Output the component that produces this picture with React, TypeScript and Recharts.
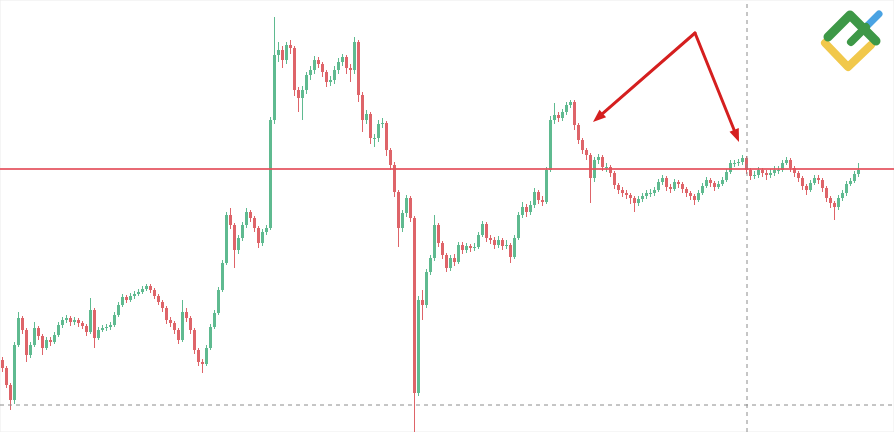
import {
  Bar,
  CartesianGrid,
  ComposedChart,
  ReferenceLine,
  XAxis,
  YAxis,
} from "recharts";

document.body.style.margin = "0";

const GREEN = "#5fba90";
const RED = "#de6469";
const ARROW = "#d51f1f";

// closing prices, one per bar (open = previous close)
const firstOpen = 72;
const closes = [
  64, 47, 32, 87, 114, 102, 77, 87, 104, 96,
  84, 92, 90, 97, 107, 112, 114, 110, 112, 109,
  106, 100, 122, 94, 102, 104, 105, 107, 117, 127,
  135, 132, 136, 138, 140, 143, 146, 142, 136, 130,
  124, 112, 109, 102, 92, 120, 114, 102, 82, 70,
  68, 84, 105, 119, 142, 169, 217, 207, 182, 194,
  207, 220, 214, 204, 189, 200, 204, 312, 377, 382,
  372, 387, 384, 342, 334, 342, 357, 362, 372, 368,
  360, 350, 352, 362, 370, 375, 364, 362, 390, 337,
  312, 318, 294, 294, 308, 309, 282, 267, 240, 204,
  219, 234, 214, 39, 132, 127, 160, 174, 207, 189,
  177, 164, 174, 170, 187, 182, 186, 184, 185, 197,
  208, 194, 192, 187, 192, 186, 187, 175, 194, 217,
  225, 220, 227, 240, 232, 230, 262, 312, 317, 314,
  320, 327, 330, 307, 292, 282, 277, 254, 272, 275,
  265, 265, 259, 247, 242, 239, 237, 234, 229, 233,
  236, 239, 239, 242, 250, 254, 245, 243, 250, 248,
  243, 239, 236, 232, 239, 246, 252, 249, 245, 248,
  252, 260, 269, 269, 270, 274, 262, 256, 257, 262,
  259, 257, 259, 262, 262, 269, 272, 264, 259, 254,
  246, 242, 249, 254, 252, 244, 234, 229, 225, 234,
  239, 248, 251, 258, 262,
];

const highs = [
  75, 66, 49, 90, 120, 116, 104, 90, 110, 106,
  98, 95, 95, 100, 110, 115, 117, 116, 115, 114,
  111, 108, 134, 124, 105, 107, 108, 110, 120, 130,
  138, 137, 139, 141, 143, 146, 148, 148, 144, 138,
  132, 126, 115, 111, 104, 132, 124, 116, 104, 84,
  73, 87, 108, 122, 145, 172, 220, 224, 209, 197,
  210, 224, 222, 216, 206, 203, 207, 315, 415, 390,
  386, 390, 392, 386, 345, 346, 360, 366, 376, 375,
  370, 362, 356, 366, 374, 378, 377, 368, 395, 392,
  340, 322, 320, 298, 312, 314, 311, 284, 270, 242,
  222, 237, 236, 216, 136, 142, 163, 177, 217, 209,
  191, 179, 177, 178, 190, 190, 189, 188, 189, 200,
  211, 210, 197, 195, 196, 194, 192, 189, 197, 220,
  230, 228, 231, 244, 242, 236, 265, 316, 329, 320,
  323, 330, 332, 332, 309, 294, 284, 279, 275, 278,
  277, 269, 267, 261, 249, 245, 242, 239, 236, 236,
  239, 242, 243, 245, 253, 257, 256, 248, 253, 252,
  250, 245, 241, 238, 242, 249, 255, 254, 251, 251,
  255, 263, 272, 272, 273, 277, 276, 264, 261, 265,
  264, 262, 263, 266, 266, 272, 275, 274, 266, 261,
  256, 248, 252, 257, 257, 254, 246, 236, 231, 237,
  242, 251, 254, 261, 269,
];

const lows = [
  60, 44, 22, 28, 85, 98, 70, 74, 85, 92,
  77, 82, 86, 88, 95, 104, 109, 106, 107, 105,
  103, 96, 98, 84, 92, 100, 101, 102, 105, 115,
  125, 129, 130, 133, 136, 138, 141, 139, 133, 127,
  120, 108, 105, 98, 88, 90, 110, 98, 78, 66,
  59, 66, 82, 103, 117, 140, 167, 203, 164, 178,
  191, 204, 210, 200, 184, 186, 197, 202, 308, 370,
  364, 368, 378, 336, 320, 312, 338, 352, 358, 364,
  355, 345, 346, 348, 358, 366, 358, 350, 358, 330,
  300, 308, 288, 285, 290, 304, 276, 262, 235, 185,
  200, 215, 210, 0, 36, 112, 124, 157, 171, 185,
  173, 160, 161, 166, 168, 178, 179, 180, 181, 183,
  195, 190, 188, 183, 184, 182, 183, 169, 173, 192,
  214, 215, 217, 224, 228, 226, 228, 260, 308, 310,
  311, 317, 324, 302, 288, 278, 272, 229, 250, 268,
  261, 260, 255, 243, 238, 235, 233, 228, 220, 226,
  230, 233, 235, 236, 240, 247, 241, 239, 241, 244,
  239, 235, 232, 227, 230, 237, 244, 245, 241, 243,
  246, 250, 258, 265, 266, 267, 258, 252, 253, 254,
  255, 252, 254, 256, 258, 260, 267, 260, 255, 250,
  242, 237, 240, 247, 248, 240, 230, 224, 212, 222,
  231, 236, 246, 249, 255,
];

// session separators (bar index) and price grid
const sessionTicks = [16.5, 28.5, 41, 59, 71.5, 84, 101.5, 114.5, 126.5, 145, 157, 169.5, 187.5, 200, 212.5];
const priceTicks = [12, 39, 66, 93, 120, 147, 174, 201, 228, 255, 282, 309, 336, 363, 390, 417];

const resistance = 263;
const crossPrice = 27;
const crossBar = 186.25;

// annotation arrows: common tail, two heads
const arrowTail = { x: 173.25, y: 399 };
const arrowHeads = [
  { x: 147.75, y: 310 },
  { x: 184.25, y: 290 },
];

const candles = closes.map((close, i) => {
  const open = i === 0 ? firstOpen : closes[i - 1];
  return {
    t: i,
    open,
    close,
    high: Math.max(highs[i], open, close),
    low: Math.min(lows[i], open, close),
  };
});

function Candle(props: any) {
  let { x, y, width, height } = props;
  const { open, close, high, low } = props.payload;
  if (height < 0) {
    y += height;
    height = -height;
  }
  const color = close >= open ? GREEN : RED;
  const span = high - low || 1;
  const py = (v: number) => y + ((high - v) / span) * height;
  const cx = Math.round(x + width / 2) + 0.5;
  const top = py(Math.max(open, close));
  const bottom = py(Math.min(open, close));
  return (
    <g>
      <line x1={cx} x2={cx} y1={y} y2={y + height} stroke={color} strokeWidth={1} />
      <rect x={cx - 1.5} y={top} width={3} height={Math.max(bottom - top, 1)} fill={color} />
    </g>
  );
}

function Arrow(props: any) {
  const { x1, y1, x2, y2 } = props;
  const dx = x2 - x1;
  const dy = y2 - y1;
  const len = Math.hypot(dx, dy) || 1;
  const ux = dx / len;
  const uy = dy / len;
  const head = 13;
  const half = 5;
  const bx = x2 - ux * head;
  const by = y2 - uy * head;
  return (
    <g>
      <line x1={x1} y1={y1} x2={bx} y2={by} stroke={ARROW} strokeWidth={3} strokeLinecap="round" />
      <polygon
        points={`${x2},${y2} ${bx - uy * half},${by + ux * half} ${bx + uy * half},${by - ux * half}`}
        fill={ARROW}
      />
    </g>
  );
}

function Logo() {
  return (
    <svg
      width={894}
      height={432}
      style={{ position: "absolute", left: 0, top: 0, pointerEvents: "none" }}
    >
      <path d="M825 43 L848 67 L871 45" stroke="#f1c84b" strokeWidth={8} fill="none" strokeLinecap="round" strokeLinejoin="round" />
      <path d="M865 28 L879 14" stroke="#4aa3e3" strokeWidth={7} fill="none" strokeLinecap="round" />
      <path d="M828 37 L850 15 L876 41" stroke="#3d9847" strokeWidth={9} fill="none" strokeLinecap="round" strokeLinejoin="round" />
      <path d="M851 42 L866 27" stroke="#3d9847" strokeWidth={8} fill="none" strokeLinecap="round" />
    </svg>
  );
}

export default function App() {
  return (
    <div style={{ position: "relative", width: 894, height: 432, background: "#fff" }}>
      <ComposedChart
        width={894}
        height={432}
        data={candles}
        margin={{ top: 0, right: 0, bottom: 0, left: 0 }}
      >
        <CartesianGrid stroke="#ececec" strokeWidth={1} />
        <XAxis
          dataKey="t"
          type="number"
          domain={[-0.5, 223]}
          ticks={sessionTicks}
          allowDataOverflow
          height={0}
          tick={false}
          tickLine={false}
          axisLine={false}
        />
        <YAxis
          type="number"
          domain={[0, 432]}
          ticks={priceTicks}
          allowDataOverflow
          width={0}
          tick={false}
          tickLine={false}
          axisLine={false}
        />
        <ReferenceLine y={crossPrice} stroke="#8c8c8c" strokeDasharray="4 4" />
        <ReferenceLine x={crossBar} stroke="#8c8c8c" strokeDasharray="4 4" />
        <ReferenceLine y={resistance} stroke="#e4505c" strokeWidth={2} strokeOpacity={0.85} />
        <Bar
          dataKey={(d: any) => [d.low, d.high]}
          barSize={3}
          shape={Candle}
          isAnimationActive={false}
        />
        {arrowHeads.map((h, i) => (
          <ReferenceLine
            key={i}
            segment={[arrowTail, h]}
            shape={Arrow}
            stroke={ARROW}
          />
        ))}
      </ComposedChart>
      <Logo />
    </div>
  );
}
